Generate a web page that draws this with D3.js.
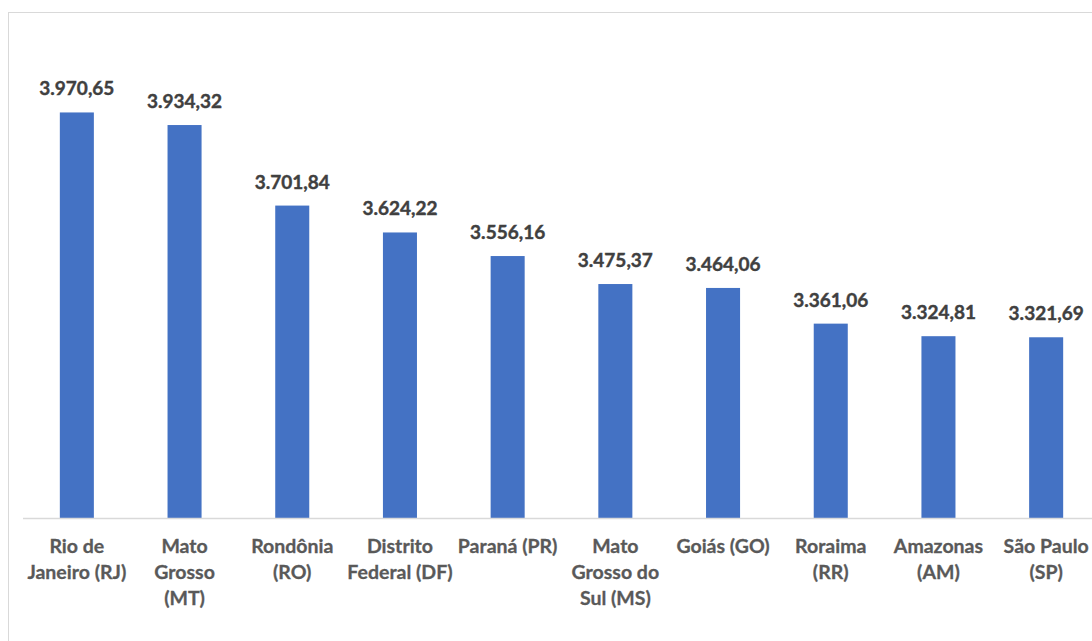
<!DOCTYPE html>
<html>
<head>
<meta charset="utf-8">
<script src="https://cdn.jsdelivr.net/npm/d3@7"></script>
<style>
  body { margin: 0; background: #fff; }
  svg { display: block; font-family: Lato, "Open Sans", sans-serif; }
</style>
</head>
<body>
<svg id="chart"></svg>
<script>
// states (labels wrap like in the spreadsheet)
const categories = [
  "Rio de\nJaneiro (RJ)",
  "Mato\nGrosso\n(MT)",
  "Rondônia\n(RO)",
  "Distrito\nFederal (DF)",
  "Paraná (PR)",
  "Mato\nGrosso do\nSul (MS)",
  "Goiás (GO)",
  "Roraima\n(RR)",
  "Amazonas\n(AM)",
  "São Paulo\n(SP)"
];
const values = [3970.65, 3934.32, 3701.84, 3624.22, 3556.16, 3475.37, 3464.06, 3361.06, 3324.81, 3321.69];
const yDomain = [2800, 4200];

const width = 1092, height = 641;
const svg = d3.select("#chart").attr("width", width).attr("height", height);

// chart area frame
svg.append("rect")
  .attr("x", 8.5).attr("y", 12.5)
  .attr("width", width + 10).attr("height", height + 10)
  .attr("fill", "none")
  .attr("stroke", "#d9d9d9")
  .attr("stroke-width", 1);

const x = d3.scaleBand()
  .domain(categories)
  .range([23, 1100])
  .paddingInner(0.684)
  .paddingOuter(0.342);

const y = d3.scaleLinear().domain(yDomain).range([518, 33]);

const ptBR = d3.formatLocale({ decimal: ",", thousands: ".", grouping: [3], currency: ["R$", ""] });
const fmt = ptBR.format(",.2f");

svg.append("g")
  .selectAll("rect")
  .data(values)
  .join("rect")
    .attr("x", (d, i) => x(categories[i]))
    .attr("y", d => y(d))
    .attr("width", x.bandwidth())
    .attr("height", d => y(yDomain[0]) - y(d))
    .attr("fill", "#4472c4");

// baseline
svg.append("line")
  .attr("x1", 23).attr("x2", width)
  .attr("y1", 518.5).attr("y2", 518.5)
  .attr("stroke", "#d9d9d9")
  .attr("stroke-width", 1.5);

// value labels
svg.append("g")
    .attr("font-size", 19)
    .attr("font-weight", "bold")
    .attr("fill", "#404040")
    .attr("stroke", "#404040")
    .attr("stroke-width", 0.4)
    .attr("text-anchor", "middle")
  .selectAll("text")
  .data(values)
  .join("text")
    .attr("x", (d, i) => x(categories[i]) + x.bandwidth() / 2)
    .attr("y", d => y(d) - 17)
    .text(d => fmt(d));

// category labels
svg.append("g")
    .attr("font-size", 19.5)
    .attr("font-weight", "bold")
    .attr("fill", "#595959")
    .attr("stroke", "#595959")
    .attr("stroke-width", 0.3)
    .attr("text-anchor", "middle")
  .selectAll("text")
  .data(categories)
  .join("text")
    .attr("transform", d => `translate(${x(d) + x.bandwidth() / 2},553)`)
  .selectAll("tspan")
  .data(d => d.split("\n"))
  .join("tspan")
    .attr("x", 0)
    .attr("y", (_, i) => i * 26)
    .text(d => d);
</script>
</body>
</html>
